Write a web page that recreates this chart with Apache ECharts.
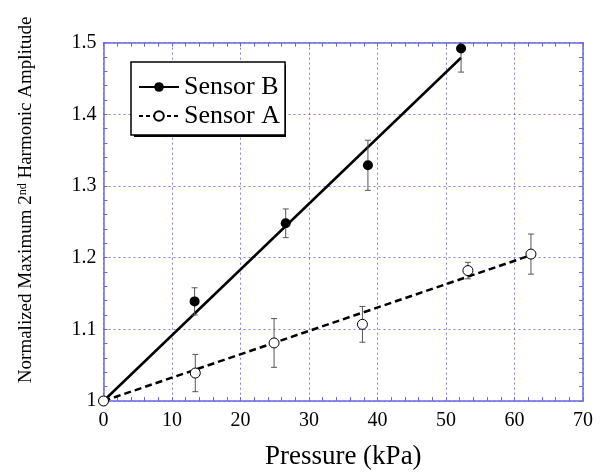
<!DOCTYPE html>
<html><head><meta charset="utf-8">
<script src="https://cdn.jsdelivr.net/npm/echarts@6/dist/echarts.min.js"></script>
<style>html,body{margin:0;padding:0;background:#fff}#c{width:600px;height:475px}</style>
</head><body><div id="c"></div>
<script>
// Sensor B: pressure (kPa), amplitude, error
const pressureB = [0, 13.3, 26.6, 38.6, 52.2];
const ampB = [1, 1.139, 1.248, 1.329, 1.492];
const errB = [0, 0.019, 0.02, 0.035, 0.033];
// Sensor A
const pressureA = [0, 13.4, 24.9, 37.8, 53.2, 62.4];
const ampA = [1, 1.039, 1.081, 1.107, 1.182, 1.205];
const errA = [0, 0.026, 0.034, 0.025, 0.0115, 0.028];
// Linear fits (end points)
const fitBx = [0, 52.2], fitBy = [1, 1.479];
const fitAx = [0, 62.4], fitAy = [1, 1.2035];
// Axes
const xMin = 0, xMax = 70, xStep = 10;
const yMin = 1, yMax = 1.5, yStep = 0.1;
const legendNames = ['Sensor B', 'Sensor A'];

const zip = (a, b, c) => a.map((v, i) => c ? [v, b[i], c[i]] : [v, b[i]]);
const FONT = 'Liberation Serif';
const BLUE = '#6a6ade';
const GRIDC = '#8080e0';

function errRender(params, api) {
  const x = api.value(0), y = api.value(1), e = api.value(2);
  if (!e) return null;
  const t = api.coord([x, y + e]), b = api.coord([x, y - e]);
  const w = 3;
  const st = { stroke: '#555', lineWidth: 1 };
  return { type: 'group', children: [
    { type: 'line', shape: { x1: t[0], y1: t[1], x2: b[0], y2: b[1] }, style: st },
    { type: 'line', shape: { x1: t[0] - w, y1: t[1], x2: t[0] + w, y2: t[1] }, style: st },
    { type: 'line', shape: { x1: b[0] - w, y1: b[1], x2: b[0] + w, y2: b[1] }, style: st }
  ]};
}

const axisCommonX = {
  type: 'value', min: xMin, max: xMax, interval: xStep,
  axisLine: { show: true, onZero: false, lineStyle: { color: BLUE, width: 1.5 } },
  axisTick: { show: true, inside: true, length: 4, lineStyle: { color: BLUE } },
  minorTick: { show: true, splitNumber: 5, length: 4, lineStyle: { color: BLUE } },
};
const axisCommonY = {
  type: 'value', min: yMin, max: yMax, interval: yStep,
  axisLine: { show: true, onZero: false, lineStyle: { color: BLUE, width: 1.5 } },
  axisTick: { show: true, inside: true, length: 4, lineStyle: { color: BLUE } },
  minorTick: { show: true, splitNumber: 5, length: 4, lineStyle: { color: BLUE } },
};

const chart = echarts.init(document.getElementById('c'));
chart.setOption({
  animation: false,
  backgroundColor: '#fff',
  grid: { left: 103.5, right: 17, top: 42.7, bottom: 73.3, containLabel: false },
  graphic: [
    { type: 'rect', left: 134, top: 65, shape: { width: 152, height: 72 },
      style: { fill: '#000' }, z: 10, silent: true }
  ],
  legend: {
    data: legendNames, orient: 'vertical', left: 131, top: 62,
    padding: [12, 5, 6, 7], itemGap: 3, itemWidth: 40, itemHeight: 12,
    backgroundColor: '#fff', borderColor: '#000', borderWidth: 1.5,
    textStyle: { fontFamily: FONT, fontSize: 26, color: '#000' },
    selectedMode: false, z: 20
  },
  xAxis: [
    Object.assign({}, axisCommonX, {
      position: 'bottom',
      name: 'Pressure (kPa)', nameLocation: 'middle', nameGap: 42,
      nameTextStyle: { fontFamily: FONT, fontSize: 27, color: '#000' },
      axisLabel: { fontFamily: FONT, fontSize: 20, color: '#000', margin: 10 },
      splitLine: { show: true, lineStyle: { color: GRIDC, type: [2, 3], width: 1 } }
    }),
    Object.assign({}, axisCommonX, {
      position: 'top', axisLabel: { show: false }, splitLine: { show: false }
    })
  ],
  yAxis: [
    Object.assign({}, axisCommonY, {
      position: 'left',
      name: 'Normalized Maximum 2{sup|nd} Harmonic Amplitude', nameLocation: 'middle', nameGap: 67,
      nameTextStyle: { fontFamily: FONT, fontSize: 19, color: '#000', padding: [0, 0, 0, 44],
        rich: { sup: { fontFamily: FONT, fontSize: 12, color: '#000', verticalAlign: 'top', padding: [0, 0, 8, 0] } } },
      axisLabel: { fontFamily: FONT, fontSize: 20, color: '#000', margin: 7 },
      splitLine: { show: true, lineStyle: { color: GRIDC, type: [2, 3], width: 1 } }
    }),
    Object.assign({}, axisCommonY, {
      position: 'right', axisLabel: { show: false }, splitLine: { show: false }
    })
  ],
  series: [
    { name: 'Sensor B', type: 'line', data: [], symbol: 'circle', symbolSize: 10,
      itemStyle: { color: '#000' }, lineStyle: { color: '#000', width: 1.5 } },
    { name: 'Sensor A', type: 'line', data: [], symbol: 'circle', symbolSize: 10,
      itemStyle: { color: '#fff', borderColor: '#000', borderWidth: 1 },
      lineStyle: { color: '#000', width: 1.5, type: [4, 3] } },
    { name: 'fitB', type: 'line', data: zip(fitBx, fitBy), showSymbol: false, symbol: 'none',
      lineStyle: { color: '#000', width: 2.5 }, z: 3 },
    { name: 'fitA', type: 'line', data: zip(fitAx, fitAy), showSymbol: false, symbol: 'none',
      lineStyle: { color: '#000', width: 2.5, type: [7, 4] }, z: 3 },
    { name: 'errB', type: 'custom', renderItem: errRender, data: zip(pressureB, ampB, errB), clip: true, z: 4 },
    { name: 'errA', type: 'custom', renderItem: errRender, data: zip(pressureA, ampA, errA), clip: true, z: 4 },
    { name: 'ptsB', type: 'scatter', data: zip(pressureB, ampB), symbol: 'circle', symbolSize: 10,
      itemStyle: { color: '#000', opacity: 1 }, z: 5 },
    { name: 'ptsA', type: 'scatter', data: zip(pressureA, ampA), symbol: 'circle', symbolSize: 10,
      itemStyle: { color: '#fff', borderColor: '#000', borderWidth: 1, opacity: 1 }, z: 6 }
  ]
});
</script>
</body></html>
